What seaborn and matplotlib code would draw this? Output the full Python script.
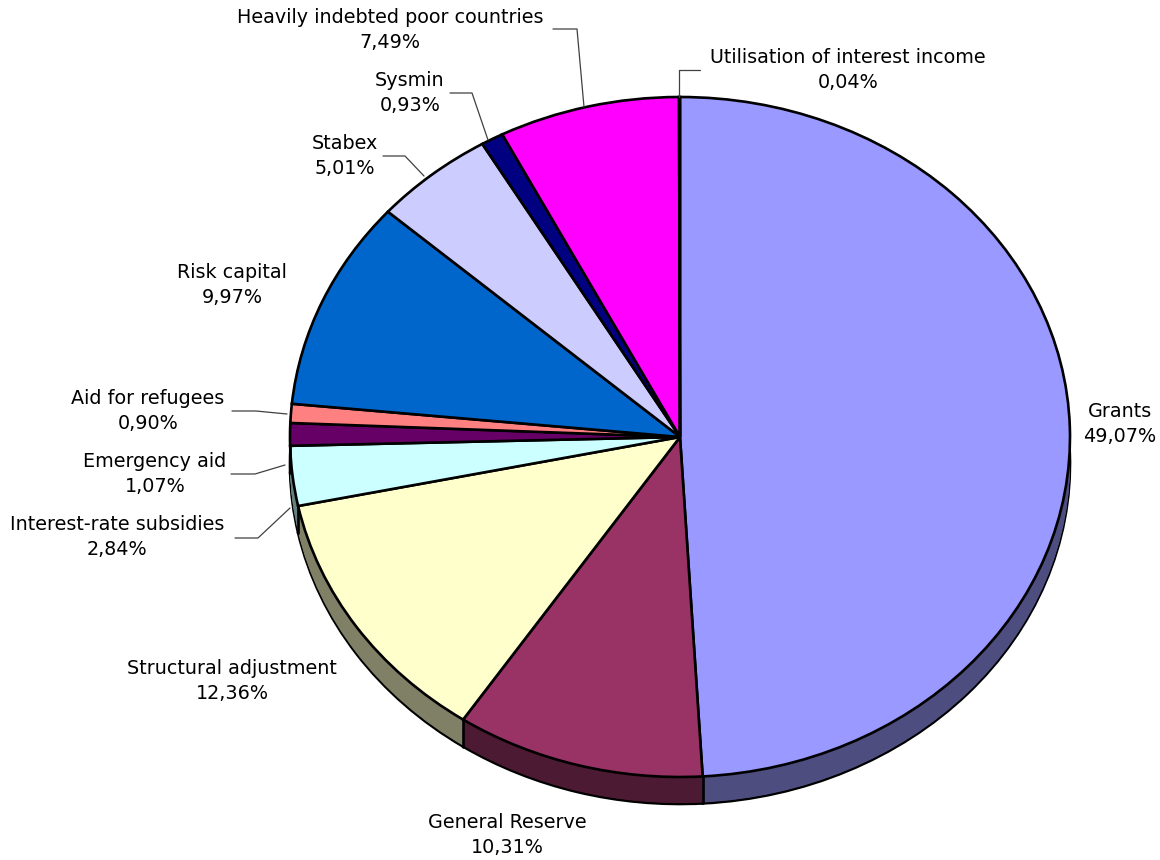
import numpy as np
import matplotlib
matplotlib.use("Agg")
import matplotlib.pyplot as plt
import seaborn as sns

labels = [
    "Grants",
    "General Reserve",
    "Structural adjustment",
    "Interest-rate subsidies",
    "Emergency aid",
    "Aid for refugees",
    "Risk capital",
    "Stabex",
    "Sysmin",
    "Heavily indebted poor countries",
    "Utilisation of interest income",
]
shares = [49.07, 10.31, 12.36, 2.84, 1.07, 0.90, 9.97, 5.01, 0.93, 7.49, 0.04]
hex_colors = [
    "#9999FF", "#993366", "#FFFFCC", "#CCFFFF", "#660066", "#FF8080",
    "#0066CC", "#CCCCFF", "#000080", "#FF00FF", "#FFFF00",
]

sns.set_style("white")
plt.rcParams["font.family"] = ["DejaVu Sans"]

top_colors = sns.color_palette(hex_colors)
side_colors = [tuple(c * 0.5 for c in col) for col in top_colors]

W, H = 1160, 860
CX, CY, RX, RY = 680, 437, 390, 340
DEPTH = 27 / RY
EDGE = 1.9


def P(x, y):
    # pixel position -> axes data coordinates (pie radius = 1)
    return (x - CX) / RX, (CY - y) / RY


fig = plt.figure(figsize=(W / 100, H / 100), dpi=100)
ax = fig.add_axes([0, 0, 1, 1])

pie_kw = dict(startangle=90, counterclock=False, radius=1)

# 3D side: bottom outline, then stacked layers
ax.pie(shares, colors=side_colors, center=(0, -DEPTH),
       wedgeprops=dict(edgecolor="black", linewidth=EDGE), **pie_kw)
for d in np.linspace(DEPTH, 0, 30)[1:-1]:
    ax.pie(shares, colors=side_colors, center=(0, -d),
           wedgeprops=dict(linewidth=0), **pie_kw)

# vertical edges on the visible side
bounds = np.cumsum([0] + shares)[:-1] / sum(shares) * 360
for b in bounds:
    phi = np.deg2rad(90 - b)
    x, y = np.cos(phi), np.sin(phi)
    if y < 0:
        ax.plot([x, x], [y, y - DEPTH], color="black", lw=EDGE, zorder=5)

# top surface
ax.pie(shares, colors=top_colors,
       wedgeprops=dict(edgecolor="black", linewidth=EDGE), **pie_kw)

# labels: text centre and leader polyline in pixel space
layout = {
    "Grants": ((1120, 424), None),
    "General Reserve": ((507, 835), None),
    "Structural adjustment": ((232, 681), None),
    "Interest-rate subsidies": ((117, 537), [(235, 538), (258, 538), (290, 508)]),
    "Emergency aid": ((155, 474), [(231, 474), (255, 474), (285, 465)]),
    "Aid for refugees": ((148, 411), [(232, 411), (256, 411), (287, 414)]),
    "Risk capital": ((232, 285), None),
    "Stabex": ((345, 156), [(383, 156), (405, 156), (424, 176)]),
    "Sysmin": ((410, 93), [(450, 93), (472, 93), (488, 140)]),
    "Heavily indebted poor countries": ((390, 30), [(553, 29), (577, 29), (584, 107)]),
    "Utilisation of interest income": ((848, 70), [(700, 70), (679, 70), (679, 97)]),
}

for name, val in zip(labels, shares):
    (tx, ty), leader = layout[name]
    pct = f"{val:.2f}".replace(".", ",") + "%"
    ax.text(*P(tx, ty), f"{name}\n{pct}", ha="center", va="center",
            fontsize=13.8, linespacing=1.35, color="black", zorder=6)
    if leader:
        pts = np.array([P(x, y) for x, y in leader])
        ax.plot(pts[:, 0], pts[:, 1], color="#404040", lw=0.9, zorder=6)

ax.set_aspect("auto")
ax.set_xlim(-CX / RX, (W - CX) / RX)
ax.set_ylim(-(H - CY) / RY, CY / RY)
ax.axis("off")

fig.savefig("out.png", dpi=100, facecolor="white")
